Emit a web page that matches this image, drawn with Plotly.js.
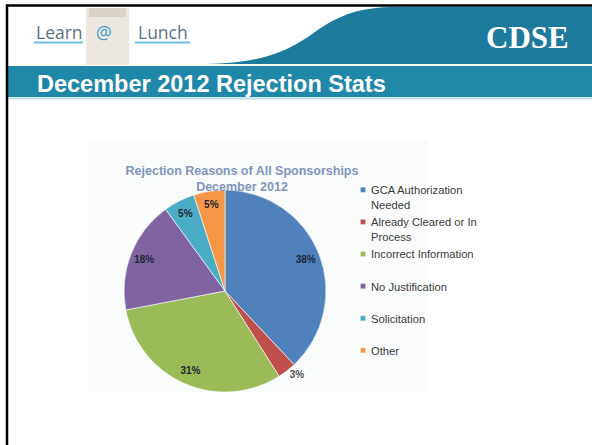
<!DOCTYPE html>
<html>
<head>
<meta charset="utf-8">
<script src="https://cdn.plot.ly/plotly-3.0.1.min.js"></script>
<style>
  html, body { margin: 0; padding: 0; background: #ffffff; }
  #chart { width: 592px; height: 445px; }
</style>
</head>
<body>
<div id="chart"></div>
<script>
// ---- data ----
var categories = [
  'GCA Authorization<br>Needed',
  'Already Cleared or In<br>Process',
  'Incorrect Information',
  'No Justification',
  'Solicitation',
  'Other'
];
var percentValues = [38, 3, 31, 18, 5, 5];
var sliceColors = ['#4f81bd', '#c0504d', '#9bbb59', '#8064a2', '#4bacc6', '#f79646'];
var chartTitle = 'Rejection Reasons of All Sponsorships<br>December 2012';
var slideTitle = 'December 2012 Rejection Stats';

// ---- helpers: pixel -> paper ----
var W = 592, H = 445;
function X(px) { return px / W; }
function Y(py) { return 1 - py / H; }
function P(pts) {
  return pts.map(function (t) {
    return X(t[0]).toFixed(5) + ',' + Y(t[1]).toFixed(5);
  }).join(' ');
}

// legend labels: pad single-line entries to two lines so slots are even
var legendLabels = categories.map(function (c) {
  return c.indexOf('<br>') >= 0 ? c : c + '<br>\u00a0';
});

var pieDomain = { x: [X(124), X(326)], y: [Y(392), Y(190)] };
var labelFont = { family: 'Arial, Liberation Sans, sans-serif', size: 10, color: '#1c2733', weight: 'bold' };

// coloured slices + legend
var slices = {
  type: 'pie',
  labels: legendLabels,
  values: percentValues,
  sort: false,
  direction: 'clockwise',
  rotation: 0,
  marker: { colors: sliceColors, line: { color: '#ffffff', width: 0.6 } },
  textinfo: 'none',
  domain: pieDomain,
  hoverinfo: 'skip'
};

// same values again, transparent, with a hole so the percent labels sit near the rim
var labelRing = {
  type: 'pie',
  labels: legendLabels,
  values: percentValues,
  sort: false,
  direction: 'clockwise',
  rotation: 0,
  hole: 0.72,
  showlegend: false,
  marker: { colors: sliceColors.map(function () { return 'rgba(0,0,0,0)'; }), line: { width: 0 } },
  texttemplate: '%{percent:.0%}',
  textposition: ['inside', 'outside', 'inside', 'inside', 'inside', 'inside'],
  insidetextorientation: 'horizontal',
  textfont: labelFont,
  insidetextfont: labelFont,
  outsidetextfont: { family: 'Arial, Liberation Sans, sans-serif', size: 10, color: '#505050', weight: 'bold' },
  domain: pieDomain,
  hoverinfo: 'skip'
};

var shapes = [
  // faint chart panel
  { type: 'rect', xref: 'paper', yref: 'paper', x0: X(88), x1: X(428), y0: Y(393), y1: Y(140),
    fillcolor: '#fafbfb', line: { width: 0 }, layer: 'below' },
  // swoosh
  { type: 'path', xref: 'paper', yref: 'paper', layer: 'below',
    path: 'M ' + P([[205, 64]]) + ' C ' + P([[265, 63], [290, 50], [315, 32]]) +
          ' C ' + P([[340, 14], [362, 7], [395, 7]]) + ' L ' + P([[592, 7]]) + ' L ' + P([[592, 64]]) + ' Z',
    fillcolor: '#1d7a9c', line: { width: 0 } },
  // teal title band
  { type: 'rect', xref: 'paper', yref: 'paper', x0: X(8), x1: X(592), y0: Y(97), y1: Y(66),
    fillcolor: '#1f87a8', line: { width: 0 }, layer: 'below' },
  // light line under band
  { type: 'line', xref: 'paper', yref: 'paper', x0: X(8), x1: X(592), y0: Y(98.5), y1: Y(98.5),
    line: { color: '#b9dde8', width: 2 }, layer: 'below' },
  // paper bag
  { type: 'rect', xref: 'paper', yref: 'paper', x0: X(86), x1: X(129), y0: Y(65), y1: Y(8),
    fillcolor: '#ece8e1', line: { width: 0 }, layer: 'below' },
  { type: 'rect', xref: 'paper', yref: 'paper', x0: X(89), x1: X(126), y0: Y(17), y1: Y(8),
    fillcolor: '#d8d2c8', line: { width: 0 }, layer: 'below' },
  // logo underlines
  { type: 'line', xref: 'paper', yref: 'paper', x0: X(34), x1: X(83), y0: Y(42.5), y1: Y(42.5),
    line: { color: '#6cc0da', width: 2 }, layer: 'above' },
  { type: 'line', xref: 'paper', yref: 'paper', x0: X(135), x1: X(190), y0: Y(42.5), y1: Y(42.5),
    line: { color: '#6cc0da', width: 2 }, layer: 'above' },
  // slide border (left + top)
  { type: 'line', xref: 'paper', yref: 'paper', x0: X(7), x1: X(7), y0: Y(445), y1: Y(4.5),
    line: { color: '#000000', width: 2.5 }, layer: 'above' },
  { type: 'line', xref: 'paper', yref: 'paper', x0: X(6), x1: X(592), y0: Y(5.5), y1: Y(5.5),
    line: { color: '#000000', width: 2.5 }, layer: 'above' }
];

var annotations = [
  { text: slideTitle, xref: 'paper', yref: 'paper', x: X(35), y: Y(84), xanchor: 'left', yanchor: 'middle',
    showarrow: false, font: { family: 'Arial, Liberation Sans, sans-serif', size: 23.5, color: '#ffffff', weight: 'bold' } },
  { text: 'CDSE', xref: 'paper', yref: 'paper', x: X(527), y: Y(37), xanchor: 'center', yanchor: 'middle',
    showarrow: false, font: { family: 'Liberation Serif, Times New Roman, serif', size: 31, color: '#ffffff', weight: 'bold' } },
  { text: 'Learn', xref: 'paper', yref: 'paper', x: X(34), y: Y(32), xanchor: 'left', yanchor: 'middle',
    showarrow: false, font: { family: 'Open Sans, sans-serif', size: 17.5, color: '#5a7282' } },
  { text: '@', xref: 'paper', yref: 'paper', x: X(104), y: Y(32), xanchor: 'center', yanchor: 'middle',
    showarrow: false, font: { family: 'Open Sans, sans-serif', size: 17.5, color: '#3a9fc3' } },
  { text: 'Lunch', xref: 'paper', yref: 'paper', x: X(136), y: Y(32), xanchor: 'left', yanchor: 'middle',
    showarrow: false, font: { family: 'Open Sans, sans-serif', size: 17.5, color: '#5a7282' } }
];

var layout = {
  width: W, height: H,
  margin: { l: 0, r: 0, t: 0, b: 0, pad: 0 },
  paper_bgcolor: '#ffffff',
  plot_bgcolor: '#ffffff',
  title: {
    text: chartTitle,
    xref: 'paper', yref: 'paper',
    x: X(242), xanchor: 'center',
    y: Y(174.5), yanchor: 'middle',
    font: { family: 'Arial, Liberation Sans, sans-serif', size: 12.5, color: '#8195bd', weight: 'bold' }
  },
  showlegend: true,
  legend: {
    x: X(331), xanchor: 'left',
    y: Y(176), yanchor: 'top',
    valign: 'top',
    bgcolor: 'rgba(0,0,0,0)',
    font: { family: 'Arial, Liberation Sans, sans-serif', size: 11.2, color: '#3a3a3a' }
  },
  shapes: shapes,
  annotations: annotations
};

Plotly.newPlot('chart', [slices, labelRing], layout, { displayModeBar: false, staticPlot: true }).then(function (gd) {
  // shrink legend swatches to small squares close to the text, as in the reference
  var paths = gd.querySelectorAll('.legend .legendpoints path');
  paths.forEach(function (p) {
    var t = p.getAttribute('transform') || '';
    p.setAttribute('transform', t + ' translate(12,0) scale(0.42)');
  });
});
</script>
</body>
</html>
